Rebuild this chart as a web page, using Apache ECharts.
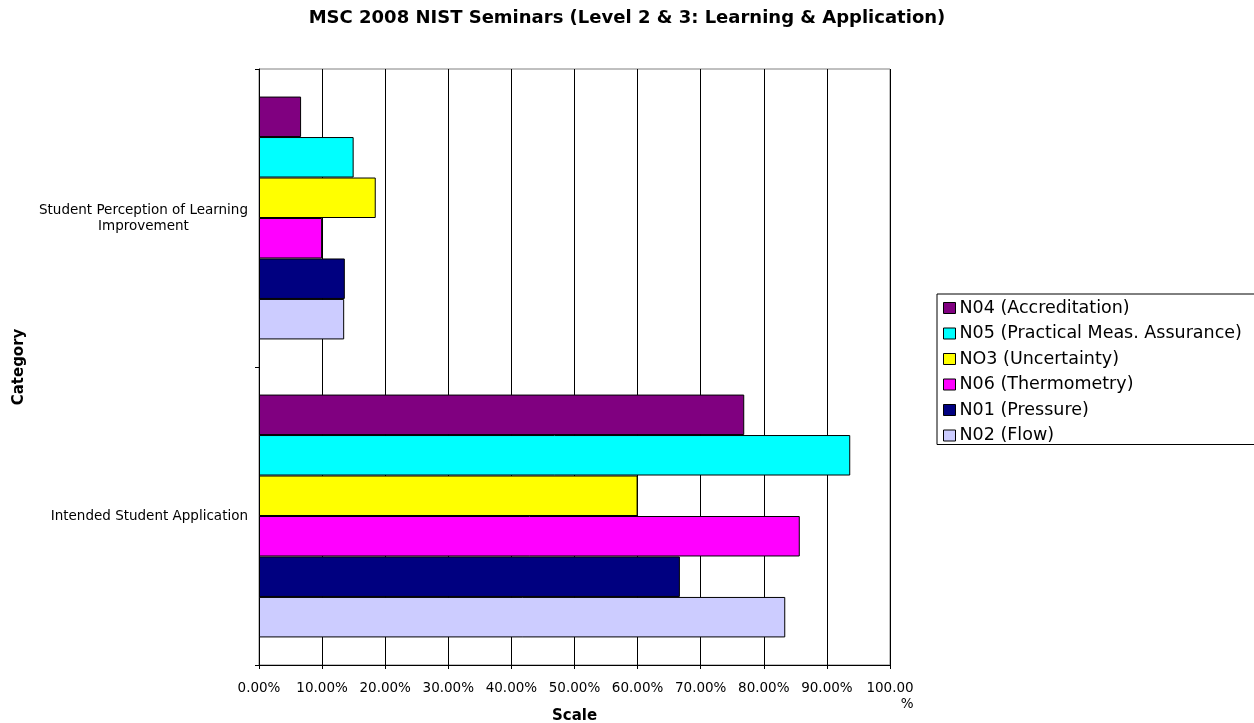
<!DOCTYPE html>
<html lang="en">
<head>
    <meta charset="UTF-8">
    <script src="https://cdn.jsdelivr.net/npm/echarts@6/dist/echarts.min.js"></script>
    <style>
        html, body {
            margin: 0;
            padding: 0;
            background: #ffffff;
        }

        #main {
            width: 1254px;
            height: 723px;
        }
    </style>
</head>
<body>
<div id="main"></div>
<script type="text/javascript">
    const categories = ['Student Perception of Learning\nImprovement', 'Intended Student Application'];
    const seriesNames = ['N04 (Accreditation)', 'N05 (Practical Meas. Assurance)', 'NO3 (Uncertainty)',
        'N06 (Thermometry)', 'N01 (Pressure)', 'N02 (Flow)'];
    const seriesColors = ['#800080', '#00ffff', '#ffff00', '#ff00ff', '#000080', '#ccccff'];
    const n04 = [6.67, 76.9];
    const n05 = [15.0, 93.7];
    const no3 = [18.5, 60.0];
    const n06 = [10.0, 85.7];
    const n01 = [13.6, 66.7];
    const n02 = [13.5, 83.4];
    const values = [n04, n05, no3, n06, n01, n02];

    const chart = echarts.init(document.getElementById('main'));
    const font = '"DejaVu Sans", Arial, sans-serif';

    const series = seriesNames.map(function (name, i) {
        return {
            name: name,
            type: 'bar',
            barGap: '0%',
            barCategoryGap: '18.5%',
            itemStyle: {
                color: seriesColors[i],
                borderColor: '#000000',
                borderWidth: 1
            },
            data: values[i]
        }
    })

    chart.setOption({
        animation: false,
        textStyle: {fontFamily: font},
        title: {
            text: 'MSC 2008 NIST Seminars (Level 2 & 3: Learning & Application)',
            left: 627,
            top: 9,
            padding: 0,
            textAlign: 'center',
            textStyle: {
                fontFamily: font,
                fontWeight: 'bold',
                fontSize: 18,
                color: '#000'
            }
        },
        legend: {
            orient: 'vertical',
            left: 937,
            top: 294,
            padding: [5, 40, 0, 6],
            itemGap: 7.5,
            itemWidth: 12,
            itemHeight: 11,
            borderColor: '#000',
            borderWidth: 1,
            icon: 'rect',
            itemStyle: {borderColor: '#000', borderWidth: 1},
            textStyle: {fontFamily: font, fontSize: 17.5, color: '#000', padding: [0, 0, 0, -1], lineHeight: 18},
            data: seriesNames
        },
        grid: {
            left: 259,
            top: 69,
            width: 631,
            height: 596,
            outerBoundsMode: 'none',
            containLabel: false,
            show: true,
            borderColor: '#808080',
            borderWidth: 1
        },
        xAxis: {
            type: 'value',
            min: 0,
            max: 100,
            interval: 10,
            name: 'Scale',
            nameLocation: 'middle',
            nameGap: 44,
            nameMoveOverlap: false,
            nameTextStyle: {fontFamily: font, fontWeight: 'bold', fontSize: 15, color: '#000'},
            axisLine: {show: true, lineStyle: {color: '#000'}},
            axisTick: {show: true, length: 4, lineStyle: {color: '#000'}},
            splitLine: {show: true, lineStyle: {color: '#000', width: 1}},
            axisLabel: {
                fontFamily: font,
                fontSize: 13.5,
                color: '#000',
                margin: 15,
                lineHeight: 16,
                formatter: function (v) {
                    return v === 100 ? '{r|100.00}\n{r|%}' : v.toFixed(2) + '%'
                },
                rich: {
                    r: {align: 'right', fontFamily: font, fontSize: 13.5, lineHeight: 16, color: '#000'}
                }
            }
        },
        yAxis: {
            type: 'category',
            inverse: true,
            data: categories,
            name: 'Category',
            nameLocation: 'middle',
            nameGap: 232,
            nameRotate: 90,
            nameMoveOverlap: false,
            nameTextStyle: {fontFamily: font, fontWeight: 'bold', fontSize: 15, color: '#000'},
            axisLine: {show: true, lineStyle: {color: '#000'}},
            axisTick: {show: true, length: 4, lineStyle: {color: '#000'}},
            splitLine: {show: false},
            axisLabel: {
                fontFamily: font,
                fontSize: 13.5,
                color: '#000',
                margin: 11,
                align: 'right',
                formatter: function (v) {
                    return v.split('\n').map(function (s) {
                        return '{c|' + s + '}'
                    }).join('\n')
                },
                rich: {
                    c: {align: 'center', fontFamily: font, fontSize: 13.5, lineHeight: 16, color: '#000'}
                }
            }
        },
        series: series
    });
</script>
</body>
</html>
